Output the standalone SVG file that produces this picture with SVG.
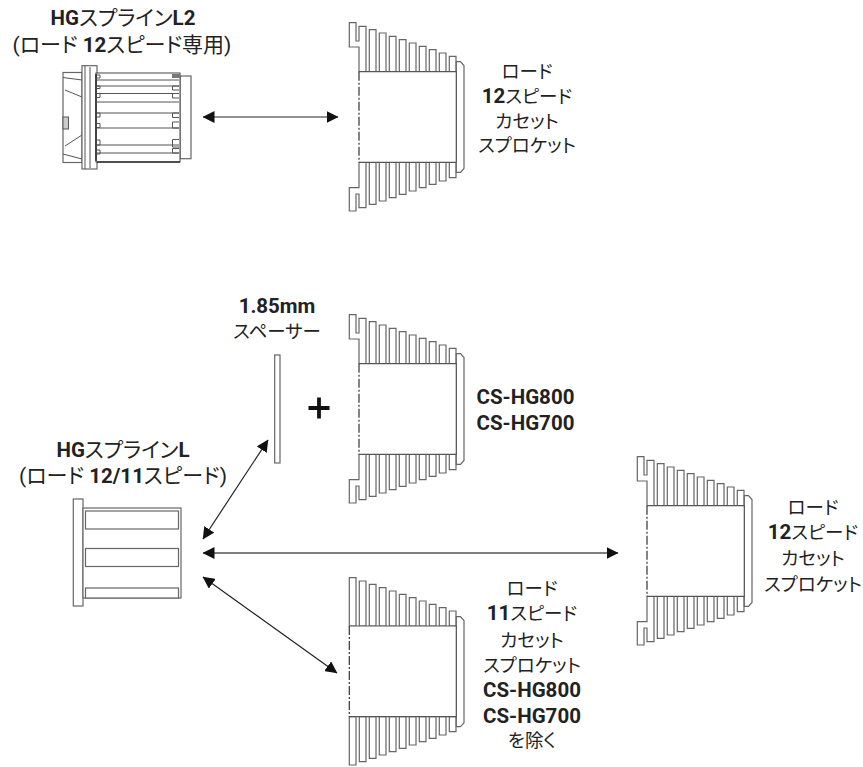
<svg xmlns="http://www.w3.org/2000/svg" width="863" height="767" viewBox="0 0 863 767">
<style>
text{font-family:"Roboto","Noto Sans CJK JP",sans-serif;font-size:18.500px;fill:#222;text-anchor:middle;font-feature-settings:"palt"}
text.t{font-size:21px}
.b{font-weight:700;font-size:20.500px}
.o{fill:#fff;stroke:#666;stroke-width:1.2}
.k{fill:none;stroke:#555;stroke-width:1}
.a{stroke:#222;stroke-width:1.2;fill:none;marker-start:url(#h);marker-end:url(#h)}
</style>
<defs>
<marker id="h" viewBox="0 0 12 12" refX="11.500" refY="6" markerWidth="12" markerHeight="12" markerUnits="userSpaceOnUse" orient="auto-start-reverse"><path d="M0 0L12 6L0 12Z" fill="#111"/></marker>
<g id="fins">
<path class="o" d="M359 162.300V187.700H349.300V211H356V194H359V207.700H366V162.300Z"/>
<path class="o" d="M359 71.700V47H349.300V22.700H356V41H359V26.300H366V71.700Z"/>
<path class="o" d="M369.300 71.700V29.700H376V71.700ZM379.300 71.700V33H386V71.700ZM389.300 71.700V36.300H396V71.700ZM399.300 71.700V39.700H406V71.700ZM409.300 71.700V43H416V71.700ZM419.300 71.700V46.300H426V71.700ZM429.300 71.700V49.700H436V71.700ZM439.300 71.700V53H446V71.700ZM449.300 71.700V56.300H456V71.700Z"/>
<path class="o" d="M369.300 162.300V204.300H376V162.300ZM379.300 162.300V201H386V162.300ZM389.300 162.300V197.700H396V162.300ZM399.300 162.300V194.300H406V162.300ZM409.300 162.300V191H416V162.300ZM419.300 162.300V187.700H426V162.300ZM429.300 162.300V184.300H436V162.300ZM439.300 162.300V181H446V162.300ZM449.300 162.300V177.700H456V162.300Z"/>
<path class="o" d="M456.300 61.700H460.500L464 65.500V168.500L460.500 172.300H456.300Z"/>
<path d="M359 71.700H456.300V162.300H359" fill="#fff" stroke="#555" stroke-width="1.200"/>
<path d="M359 71.700V162.300" stroke="#333" stroke-width="1.200" stroke-dasharray="9 2 2 2" fill="none"/></g>
<g id="fins2">
<path class="o" d="M349.300 626V577.700H356V626ZM359.300 626V581H366V626ZM369.300 626V584.300H376V626ZM379.300 626V587.700H386V626ZM389.300 626V591H396V626ZM399.300 626V594.300H406V626ZM409.300 626V597.700H416V626ZM419.300 626V601H426V626ZM429.300 626V604.300H436V626ZM439.300 626V607.700H446V626ZM449.300 626V611H456V626Z"/>
<path class="o" d="M349.300 716.700V765H356V716.700ZM359.300 716.700V761.700H366V716.700ZM369.300 716.700V758.300H376V716.700ZM379.300 716.700V755H386V716.700ZM389.300 716.700V751.700H396V716.700ZM399.300 716.700V748.300H406V716.700ZM409.300 716.700V745H416V716.700ZM419.300 716.700V741.700H426V716.700ZM429.300 716.700V738.300H436V716.700ZM439.300 716.700V735H446V716.700ZM449.300 716.700V731.700H456V716.700Z"/>
<path class="o" d="M456.300 616.700H460.500L464 620.500V722.800L460.500 726.700H456.300Z"/>
<path d="M349.300 626H456.300V716.700H349.300" fill="#fff" stroke="#555" stroke-width="1.200"/>
<path d="M349.300 626V716.700" stroke="#333" stroke-width="1.200" stroke-dasharray="9 2 2 2" fill="none"/></g>
</defs>
<g id="connectors">
<path class="a" d="M203 117H338"/>
<path class="a" d="M203 539L268 440"/>
<path class="a" style="stroke-width:1.700;stroke:#555" d="M203 553H618"/>
<path class="a" d="M203 577L337 673"/>
</g>
<g id="hub-l2">
<rect class="o" x="63" y="72.500" width="19" height="90"/>
<path class="k" d="M63 77.500L82 80M65 90L82 97M65 146L82 135M63 154L82 159"/>
<rect x="63" y="117" width="5.500" height="12" fill="#ccc" stroke="#555"/>
<rect class="o" x="82" y="65.700" width="15" height="103.300"/>
<path class="k" d="M85 66V169M90 67V168"/>
<rect class="o" x="180" y="76" width="11" height="82.700"/>
<rect x="96" y="73" width="84" height="89" fill="#fff" stroke="#444" stroke-width="1"/>
<path class="k" d="M97 80H179M97 86H179M97 93.500H179M97 102H179M97 113H179M97 128H179M97 145H179M97 153H179"/>
<path class="k" d="M179 86H172.500V90H179M179 93.500H172.500V98H179M179 113H172.500V117.500H179M179 122H172.500V128H179M179 139.500H172.500V147H179M179 148.500H172.500V153H179"/>
<path class="k" d="M97 75H100V78H97M97 86H100V88.500H97M97 93.500H100V97.500H97M97 113H100V117H97M97 123.500H100V127.500H97M97 140H100V145H97M97 150H100V154H97"/>
<path d="M96 74V161" stroke="#444" stroke-width="2" fill="none"/>
<path d="M97 162H180" stroke="#333" stroke-width="1.500" fill="none"/>
<rect x="172" y="74" width="8" height="4" fill="#777"/>
</g>
<g id="cassette-top"><use href="#fins"/></g>
<g id="spacer"><rect class="o" x="274.700" y="355" width="5.300" height="108"/></g>
<g id="plus"><path d="M319 397.500V418.500M308.500 408H329.500" stroke="#111" stroke-width="3.800" fill="none"/></g>
<g id="cassette-mid"><use href="#fins" y="292"/></g>
<g id="hub-l">
<rect class="o" x="73.300" y="499" width="9.700" height="107"/>
<rect class="o" x="83" y="508" width="98" height="90"/>
<rect class="o" x="85.500" y="511" width="93" height="18"/>
<rect class="o" x="85.500" y="548.500" width="93" height="18"/>
<rect class="o" x="85.500" y="588" width="93" height="10"/>
</g>
<g id="cassette-right"><use href="#fins" x="288" y="434"/></g>
<g id="cassette-bottom"><use href="#fins2"/></g>
<g id="labels">
<text class="t" x="123" y="25"><tspan class="b">HG</tspan>スプライン<tspan class="b">L2</tspan></text>
<text class="t" x="122" y="51.500">(ロード <tspan class="b">12</tspan>スピード専用)</text>
<text x="527" y="78">ロード</text>
<text x="527" y="103"><tspan class="b">12</tspan>スピード</text>
<text x="527" y="128">カセット</text>
<text x="527" y="152">スプロケット</text>
<text x="277" y="312.700" class="b">1.85mm</text>
<text x="277" y="338">スペーサー</text>
<text x="525.500" y="404" class="b">CS-HG800</text>
<text x="525.500" y="430" class="b">CS-HG700</text>
<text class="t" x="123" y="457"><tspan class="b">HG</tspan>スプライン<tspan class="b">L</tspan></text>
<text class="t" x="123" y="483">(ロード <tspan class="b">12/11</tspan>スピード)</text>
<text x="813" y="514">ロード</text>
<text x="813" y="539"><tspan class="b">12</tspan>スピード</text>
<text x="813" y="565">カセット</text>
<text x="813" y="591">スプロケット</text>
<text x="532" y="595">ロード</text>
<text x="532" y="620"><tspan class="b">11</tspan>スピード</text>
<text x="532" y="647">カセット</text>
<text x="532" y="672">スプロケット</text>
<text x="532" y="697" class="b">CS-HG800</text>
<text x="532" y="723" class="b">CS-HG700</text>
<text x="532" y="747">を除く</text>
</g>
</svg>
